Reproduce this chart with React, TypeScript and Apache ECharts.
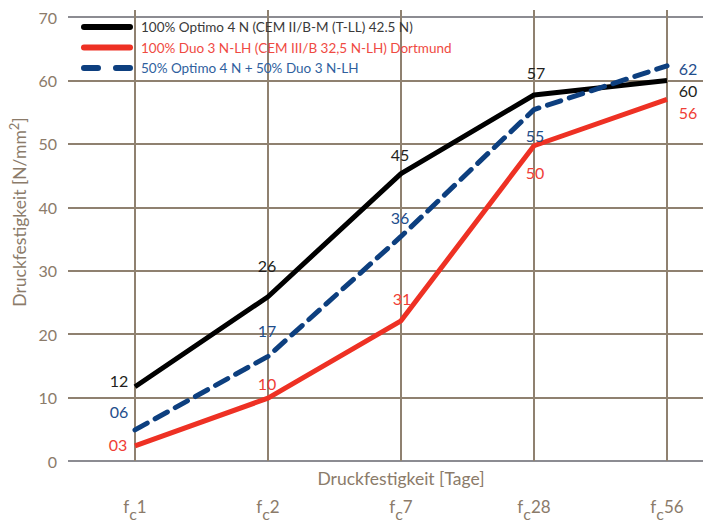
import React, { useEffect, useRef } from "react";
import * as echarts from "echarts";

const categories = ["1", "2", "7", "28", "56"];
const seriesNames = [
  "100% Optimo 4 N (CEM II/B-M (T-LL) 42.5 N)",
  "100% Duo 3 N-LH (CEM III/B 32,5 N-LH) Dortmund",
  "50% Optimo 4 N + 50% Duo 3 N-LH",
];
const optimoValues = [11.7, 25.9, 45.3, 57.7, 60.0];
const duoValues = [2.4, 9.9, 22.1, 49.7, 57.0];
const mixValues = [4.9, 16.5, 35.4, 55.4, 62.3];
const optimoLabels = ["12", "26", "45", "57", "60"];
const duoLabels = ["03", "10", "31", "50", "56"];
const mixLabels = ["06", "17", "36", "55", "62"];
const yMin = 0;
const yMax = 70;
const yInterval = 10;

// label placement (style)
const optimoOffsets = [[-16, -6], [-1, -31], [-1, -19], [2, -23], [21, 10]];
const duoOffsets = [[-17, -1], [-1, -15], [1, -22], [1, 27], [21, 13]];
const mixOffsets = [[-16, -18], [-1, -26], [-1, -19], [1, 26], [21, 3]];

const FONT = "Lato";
const AXIS_TEXT = "#8b7b6a";
const GRID_BROWN = "#8f8170";
const GRID_GRAY = "#8c8c92";

function buildData(values: number[], labels: string[], offsets: number[][]) {
  return values.map((v, i) => ({
    value: v,
    label: { formatter: labels[i], offset: offsets[i] },
  }));
}

export default function App() {
  const ref = useRef<HTMLDivElement>(null);
  useEffect(() => {
    if (!ref.current) return;
    const chart = echarts.init(ref.current, null, { renderer: "svg" });
    const lineSeries = (
      name: string,
      values: number[],
      labels: string[],
      offsets: number[][],
      color: string,
      textColor: string,
      dashed: boolean
    ) => ({
      type: "line",
      name,
      xAxisIndex: 1,
      yAxisIndex: 1,
      data: buildData(values, labels, offsets),
      symbol: "circle",
      symbolSize: 0,
      itemStyle: { color },
      lineStyle: {
        color,
        width: 5,
        type: dashed ? [14, 9] : "solid",
        cap: dashed ? "round" : "butt",
      },
      label: {
        show: true,
        position: "inside",
        color: textColor,
        fontFamily: FONT,
        fontSize: 16,
      },
    });
    const catRich = {
      f: { fontFamily: FONT, fontSize: 17, color: AXIS_TEXT, verticalAlign: "bottom", padding: [0, 0, 6, 0] },
      c: { fontFamily: FONT, fontSize: 16, color: AXIS_TEXT, verticalAlign: "bottom" },
    };
    chart.setOption({
      animation: false,
      backgroundColor: "#ffffff",
      grid: [
        { left: 68, right: 0, top: 17, bottom: 63, outerBoundsMode: "none" },
        { left: 135, right: 36, top: 10, bottom: 63, outerBoundsMode: "none" },
      ],
      xAxis: [
        { gridIndex: 0, type: "value", min: 0, max: 1, show: false },
        {
          gridIndex: 1,
          type: "category",
          boundaryGap: false,
          data: categories,
          axisLine: { show: false },
          axisTick: { show: false },
          splitLine: { show: true, lineStyle: { color: GRID_BROWN, width: 2 } },
          axisLabel: {
            margin: 37,
            formatter: (v: string) => `{f|f}{c|c}{f|${v}}`,
            rich: catRich,
          },
          name: "Druckfestigkeit [Tage]",
          nameLocation: "middle",
          nameGap: 8,
          nameMoveOverlap: false,
          nameTextStyle: { fontFamily: FONT, fontSize: 17.5, color: AXIS_TEXT, verticalAlign: "top" },
        },
      ],
      yAxis: [
        {
          gridIndex: 0,
          type: "value",
          min: yMin,
          max: yMax,
          interval: yInterval,
          axisLine: { show: false },
          axisTick: { show: false },
          axisLabel: { margin: 11, fontFamily: FONT, fontSize: 16, color: AXIS_TEXT },
          splitLine: {
            show: true,
            lineStyle: {
              width: 2,
              color: [GRID_GRAY, GRID_BROWN, GRID_BROWN, GRID_BROWN, GRID_BROWN, GRID_BROWN, GRID_BROWN, GRID_GRAY],
            },
          },
        },
        {
          gridIndex: 1,
          type: "value",
          min: yMin,
          max: yMax + 7 / (444 / 70),
          show: false,
        },
      ],
      legend: {
        orient: "vertical",
        left: 76,
        top: 15,
        itemWidth: 46,
        itemHeight: 14,
        itemGap: 6.5,
        itemStyle: { opacity: 0 },
        lineStyle: { width: 6, cap: "round" },
        textStyle: { fontFamily: FONT, fontSize: 13.5, padding: [0, 0, 0, 6] },
        data: [
          { name: seriesNames[0], textStyle: { color: "#3a3a3a" } },
          { name: seriesNames[1], textStyle: { color: "#ef4a42" } },
          { name: seriesNames[2], textStyle: { color: "#2f5f9e" }, lineStyle: { type: [14, 18], width: 6, cap: "round" } },
        ],
      },
      graphic: [
        {
          type: "text",
          x: 18,
          y: 212,
          rotation: Math.PI / 2,
          style: {
            text: "{a|Druckfestigkeit [N/mm}{s|2}{a|]}",
            align: "center",
            verticalAlign: "middle",
            rich: {
              a: { fontFamily: FONT, fontSize: 17.5, fill: AXIS_TEXT, verticalAlign: "bottom" },
              s: { fontFamily: FONT, fontSize: 13, fill: AXIS_TEXT, verticalAlign: "bottom", padding: [0, 0, 8, 0] },
            },
          },
        },
      ],
      series: [
        lineSeries(seriesNames[0], optimoValues, optimoLabels, optimoOffsets, "#000000", "#231f20", false),
        lineSeries(seriesNames[1], duoValues, duoLabels, duoOffsets, "#ee3124", "#ef3e36", false),
        lineSeries(seriesNames[2], mixValues, mixLabels, mixOffsets, "#0d3f7f", "#1f4e8c", true),
      ],
    });
    return () => chart.dispose();
  }, []);
  return <div ref={ref} style={{ width: 703, height: 524, position: "absolute", left: 0, top: 0 }} />;
}
